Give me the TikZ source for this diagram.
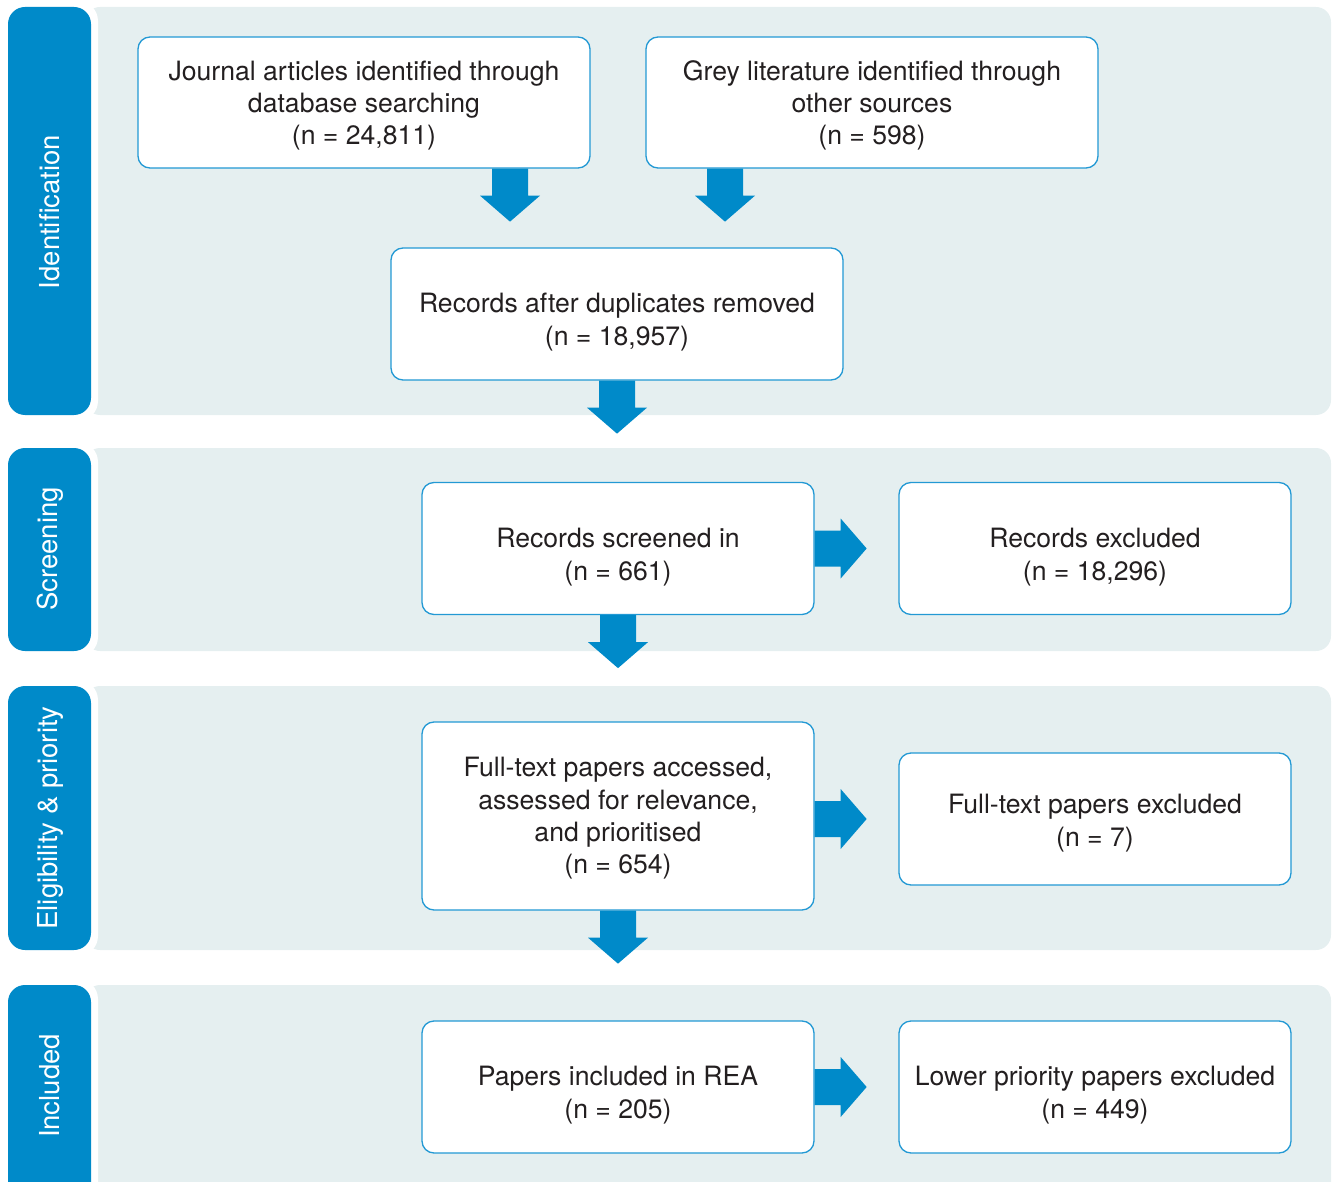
\documentclass[tikz,border=0pt]{standalone}
\usepackage{fontspec}
\setmainfont{TeX Gyre Heros}
\definecolor{tabblue}{HTML}{008AC9}
\definecolor{bandbg}{HTML}{E5EFF0}
\definecolor{boxline}{HTML}{2399D4}
\definecolor{txt}{HTML}{231F20}
\begin{document}
\begin{tikzpicture}[x=1pt,y=-1pt,
  band/.style={fill=bandbg,rounded corners=15pt},
  tabhalo/.style={fill=white,rounded corners=20pt},
  tab/.style={fill=tabblue,rounded corners=17pt},
  tablabel/.style={rotate=90,text=white,font=\fontsize{27.5}{30}\selectfont,inner sep=0pt},
  flowbox/.style={draw=boxline,line width=1.3pt,fill=white,rounded corners=12pt,inner sep=0pt},
  boxtext/.style={align=center,text=txt,font=\fontsize{26.6}{32.3}\selectfont,inner sep=0pt},
  pics/downarr/.style={code={\fill[tabblue] (-18,0) -- (18,0) -- (18,27) -- (30,27) -- (0,53) -- (-30,27) -- (-18,27) -- cycle;}},
  pics/rightarr/.style={code={\fill[tabblue] (0,-18) -- (26,-18) -- (26,-30) -- (52,0) -- (26,30) -- (26,18) -- (0,18) -- cycle;}}
]
\useasboundingbox (0,0) rectangle (1334,1182);
% bands
\fill[band] (85,7) rectangle (1331,415);
\fill[band] (85,448) rectangle (1331,651);
\fill[band] (85,686) rectangle (1331,950);
\fill[band] (85,985) rectangle (1331,1200);
% tabs
\fill[tabhalo] (2,1) rectangle (98,421);
\fill[tabhalo] (2,442) rectangle (98,657);
\fill[tabhalo] (2,680) rectangle (98,956);
\fill[tabhalo] (2,979) rectangle (98,1206);
\fill[tab] (8,7) rectangle (91,415);
\fill[tab] (8,448) rectangle (91,651);
\fill[tab] (8,686) rectangle (91,950);
\fill[tab] (8,985) rectangle (91,1200);
\node[tablabel] (t1) at (50,212) {Identification};
\node[tablabel] (t2) at (50,549) {Screening};
\node[tablabel] (t3) at (50,818) {Eligibility \& priority};
\node[tablabel] (t4) at (50,1086) {Included};
% boxes
\node[flowbox,minimum width=452,minimum height=131] (b1) at (364,102.5) {};
\node[flowbox,minimum width=452,minimum height=131] (b2) at (872,102.5) {};
\node[flowbox,minimum width=452,minimum height=132] (b3) at (617,314) {};
\node[flowbox,minimum width=392,minimum height=132] (b4) at (618,548.5) {};
\node[flowbox,minimum width=392,minimum height=132] (b5) at (1095,548.5) {};
\node[flowbox,minimum width=392,minimum height=188] (b6) at (618,816) {};
\node[flowbox,minimum width=392,minimum height=132] (b7) at (1095,819) {};
\node[flowbox,minimum width=392,minimum height=132] (b8) at (618,1087) {};
\node[flowbox,minimum width=392,minimum height=132] (b9) at (1095,1087) {};
% texts
\node[boxtext] (x1) at ([yshift=-3]b1.center)
  {Journal articles identified through\\database searching\\(n = 24,811)};
\node[boxtext] (x2) at ([yshift=-3]b2.center)
  {Grey literature identified through\\other sources\\(n = 598)};
\node[boxtext] (x3) at ([yshift=-8]b3.center)
  {Records after duplicates removed\\(n = 18,957)};
\node[boxtext] (x4) at ([yshift=-8.5]b4.center)
  {Records screened in\\(n = 661)};
\node[boxtext] (x5) at ([yshift=-8.5]b5.center)
  {Records excluded\\(n = 18,296)};
\node[boxtext] (x6) at ([yshift=-2.5]b6.center)
  {Full-text papers accessed,\\assessed for relevance,\\and prioritised\\(n = 654)};
\node[boxtext] (x7) at ([yshift=-4]b7.center)
  {Full-text papers excluded\\(n = 7)};
\node[boxtext] (x8) at ([yshift=-8]b8.center)
  {Papers included in REA\\(n = 205)};
\node[boxtext] (x9) at ([yshift=-8]b9.center)
  {Lower priority papers excluded\\(n = 449)};
% arrows
\coordinate (ax1) at (510,0);
\coordinate (ax2) at (725,0);
\pic at (b1.south -| ax1) {downarr};
\pic at (b2.south -| ax2) {downarr};
\pic at (b3.south) {downarr};
\pic at (b4.south) {downarr};
\pic at (b6.south) {downarr};
\pic at (b4.east) {rightarr};
\pic at (b6.east |- b7.east) {rightarr};
\pic at (b8.east) {rightarr};
\end{tikzpicture}
\end{document}
